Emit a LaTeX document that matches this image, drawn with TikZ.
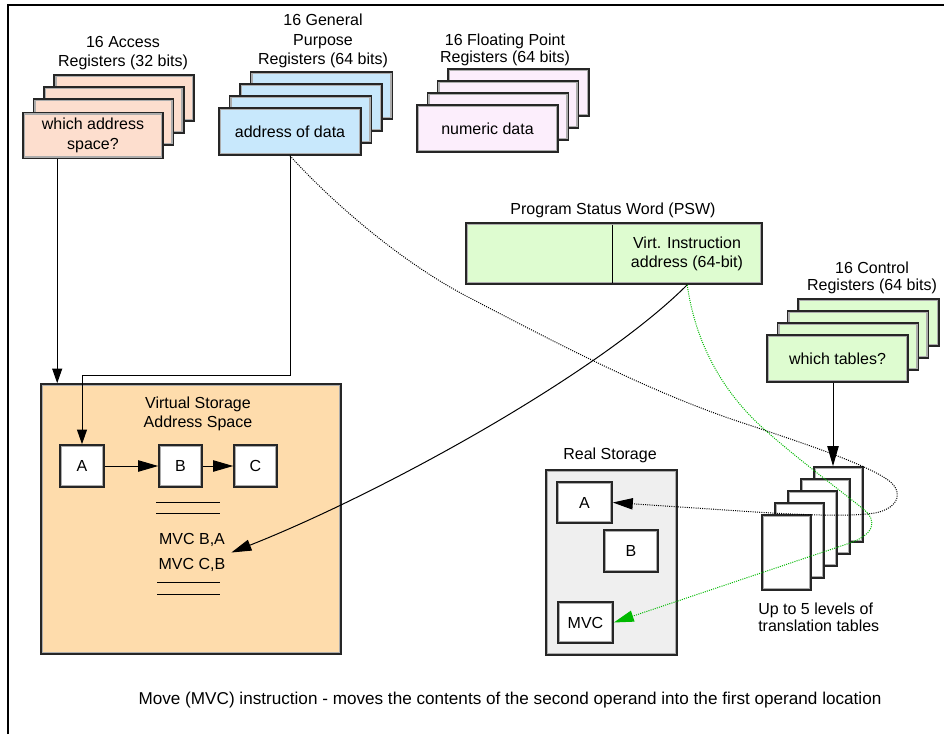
\documentclass[tikz,border=0pt]{standalone}
\usepackage{fontspec}
\setmainfont{Liberation Sans}
\usetikzlibrary{arrows.meta,calc}
\definecolor{arfill}{RGB}{253,222,206}
\definecolor{gpfill}{RGB}{200,232,252}
\definecolor{fpfill}{RGB}{252,238,252}
\definecolor{grfill}{RGB}{222,252,208}
\definecolor{vsfill}{RGB}{254,220,172}
\definecolor{rsfill}{RGB}{239,239,239}
\definecolor{rim}{RGB}{172,172,172}
\definecolor{dotgreen}{RGB}{0,185,0}
\tikzset{
  wh/.style 2 args={minimum width=#1*0.75pt, minimum height=#2*0.75pt},
  box/.style={draw=black!85, line width=1.2pt, rectangle, inner sep=0pt, align=center,
    font=\fontsize{12}{15}\selectfont,
    path picture={\draw[rim, line width=3.6pt] (path picture bounding box.south west) rectangle (path picture bounding box.north east);}},
  lbl/.style={inner sep=0pt, align=center, font=\fontsize{12}{14.5}\selectfont, yshift=-1.5pt},
  lbltight/.style={inner sep=0pt, align=center, font=\fontsize{12}{13}\selectfont, yshift=-1.5pt},
  arr/.style={-{Triangle[length=15pt,width=8.5pt]}, line width=0.75pt},
  arrsmall/.style={-{Triangle[length=11pt,width=7.5pt]}, line width=0.75pt},
  dotln/.style={line width=0.75pt, dash pattern=on 0.75pt off 0.9pt},
}
\begin{document}
\begin{tikzpicture}[x=0.75pt,y=-0.75pt]
\useasboundingbox (0,0) rectangle (944,734);
\draw[line width=1.5pt] (8,734) -- (8,5) -- (944,5);

% Access registers
\foreach \k in {3,2,1}{\node[box,fill=arfill,wh={140}{46}] (ar\k) at ({93+10.4*\k},{134-12*\k}) {};}
\node[box,fill=arfill,wh={140}{46},yshift=-1pt] (ar0) at (93,134) {which address\\space?};
\node[lbl] (arlbl) at (123,51) {16 Access\\Registers (32 bits)};

% General purpose registers
\foreach \k in {3,2,1}{\node[box,fill=gpfill,wh={142}{47}] (gp\k) at ({290+10.5*\k},{131.5-12*\k}) {};}
\node[box,fill=gpfill,wh={142}{47}] (gp0) at (290,131.5) {address of data};
\node[lbl] (gplbl) at (323,39) {16 General\\Purpose\\Registers (64 bits)};

% Floating point registers
\foreach \k in {3,2,1}{\node[box,fill=fpfill,wh={141}{47}] (fp\k) at ({487.5+10.3*\k},{128.5-12*\k}) {};}
\node[box,fill=fpfill,wh={141}{47}] (fp0) at (487.5,128.5) {numeric data};
\node[lbltight] (fplbl) at (505,48) {16 Floating Point\\Registers (64 bits)};

% PSW
\node[lbl] (pswlbl) at (613,208) {Program Status Word (PSW)};
\node[box,fill=grfill,wh={296}{61}] (psw) at (614,253.5) {};
\draw[line width=0.75pt] (612,224.5) -- (612,282.5);
\node[lbl] (pswtxt) at (687,252) {Virt. Instruction\\address (64-bit)};

% Control registers
\foreach \k in {3,2,1}{\node[box,fill=grfill,wh={141}{47}] (cr\k) at ({837.5+10.3*\k},{358.5-12*\k}) {};}
\node[box,fill=grfill,wh={141}{47}] (cr0) at (837.5,358.5) {which tables?};
\node[lbltight] (crlbl) at (872,276) {16 Control\\Registers (64 bits)};

% Virtual storage
\node[box,fill=vsfill,wh={300}{270}] (vs) at (191,519) {};
\node[lbl] (vslbl) at (198,412) {Virtual Storage\\Address Space};
\node[box,fill=white,wh={44}{42}] (vsA) at (82,466) {A};
\node[box,fill=white,wh={43}{42}] (vsB) at (180.5,466) {B};
\node[box,fill=white,wh={43}{42}] (vsC) at (255.5,466) {C};
\draw[line width=0.75pt] (156,502) -- (220,502) (156,513) -- (220,513);
\draw[line width=0.75pt] (157,582) -- (220,582) (157,594) -- (220,594);
\node[lbl] (mvc1) at (192,538) {MVC B,A};
\node[lbl] (mvc2) at (192,563) {MVC C,B};

% Real storage
\node[lbl] (rslbl) at (610,453) {Real Storage};
\node[box,fill=rsfill,wh={131}{185}] (rs) at (611.5,562.5) {};
\node[box,fill=white,wh={55}{41}] (rsA) at (584.5,502.5) {A};
\node[box,fill=white,wh={54}{42}] (rsB) at (631,551) {B};
\node[box,fill=white,wh={55}{41}] (rsM) at (585.5,622.5) {MVC};

% Translation tables
\foreach \k in {4,3,2,1,0}{\node[box,fill=white,wh={49}{75}] (tt\k) at ({786.5+13*\k},{552.5-12*\k}) {};}
\node[lbltight,anchor=west,align=left] (ttlbl) at (758,615) {Up to 5 levels of\\translation tables};

% Caption
\node[lbl,font=\fontsize{12.85}{15}\selectfont] (caption) at (510,698) {Move (MVC) instruction - moves the contents of the second operand into the first operand location};

% Connectors
\coordinate (arout) at ($(ar0.south west)+(35,0)$);
\draw[arrsmall] (arout) -- (arout |- vs.north);
\coordinate (gpbend) at (82,375);
\draw[arrsmall] (gp0.south) |- (gpbend) -- (vsA.north);
\draw[arr] (vsA.east) -- (vsB.west);
\draw[arr] (vsB.east) -- (vsC.west);

\coordinate (pswout) at ($(psw.south west)+(222,0)$);
\coordinate (mvcin) at ($(mvc1.east)!0.5!(mvc2.east)+(6,0)$);
\draw[arr] (pswout) .. controls (598,374) and (382,493) .. (mvcin);

\coordinate (crout) at ($(cr0.south)+(-4.5,0)$);
\draw[arr] (crout) -- (crout |- tt4.north);

% dotted black: GPR -> tables -> real A
\draw[dotln,-{Triangle[length=15pt,width=8.5pt]}] (gp0.south)
  .. controls (330,200) and (400,262) .. (470,298)
  .. controls (560,345) and (650,392) .. (740,422)
  .. controls (800,442) and (860,462) .. (885,478)
  .. controls (905,490) and (900,508) .. (875,513)
  .. controls (850,517) and (800,515) .. (740,511)
  -- (rsA.east);

% dotted green: PSW -> tables -> real MVC
\draw[dotln,dotgreen,-{Triangle[length=15pt,width=8.5pt]}] (pswout)
  .. controls (695,340) and (720,390) .. (765,430)
  .. controls (800,461) and (845,494) .. (862,508)
  .. controls (880,522) and (872,535) .. (850,543)
  -- (rsM.east);
\end{tikzpicture}
\end{document}
